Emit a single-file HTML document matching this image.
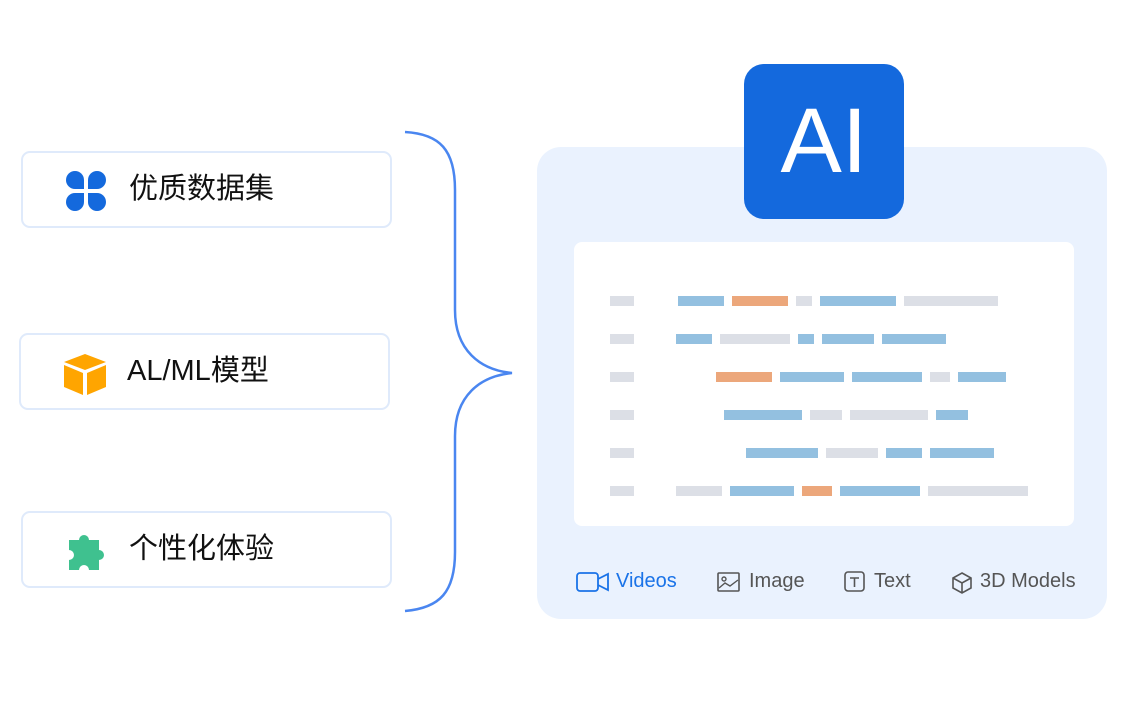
<!DOCTYPE html>
<html><head><meta charset="utf-8"><style>
body{margin:0;width:1136px;height:718px;background:#fff;position:relative;overflow:hidden;font-family:"Liberation Sans","Noto Sans CJK SC",sans-serif}
.card{position:absolute;width:371px;height:77px;border:2px solid #dfeafb;border-radius:9px;box-sizing:border-box;background:#fff}
.card span{position:absolute;left:106px;top:18px;font-size:29px;color:#111;line-height:36px}
.card svg{position:absolute;left:42px;top:17px}
.b{position:absolute;height:10px}
.g{background:#dcdfe6}.u{background:#93c0e0}.o{background:#eca77b}
.tab{position:absolute;top:569px;font-size:20px;color:#555;line-height:24px}
</style></head><body>
<div class="card" style="left:21px;top:151px"><svg width="42" height="42" viewBox="0 0 42 42"><g fill="#1469dd"><path d="M1 10a9 9 0 0 1 18 0v9H10a9 9 0 0 1-9-9z"/><path d="M23 10a9 9 0 0 1 18 0a9 9 0 0 1-9 9h-9z"/><path d="M1 32a9 9 0 0 1 9-9h9v9a9 9 0 0 1-18 0z"/><path d="M23 23h9a9 9 0 0 1 0 18a9 9 0 0 1-9-9z"/></g></svg><span>优质数据集</span></div>
<div class="card" style="left:19px;top:333px"><svg width="44" height="44" viewBox="0 0 44 44"><path d="M22 2L43 10L22 18L1 10Z" fill="#ffa500"/><path d="M1 13L20 21V43L1 35Z" fill="#ffa500"/><path d="M24 21L43 13V35L24 43Z" fill="#ffa500"/></svg><span style="left:106px">AL/ML模型</span></div>
<div class="card" style="left:21px;top:511px"><svg width="44" height="44" viewBox="0 0 44 44"><path d="M4 10h10a5 5 0 1 1 10 0h10v10a5 5 0 1 1 0 10v10H24a5 5 0 1 0-10 0H4V30a5 5 0 1 0 0-10z" fill="#3fc18f"/></svg><span>个性化体验</span></div>
<svg style="position:absolute;left:0;top:0" width="1136" height="718"><path d="M405 132C440 134 455 150 455 190V310C455 350 480 370 512 373C480 376 455 396 455 436V552C455 592 440 608 405 611" fill="none" stroke="#4a86f0" stroke-width="2.5"/></svg>
<div style="position:absolute;left:537px;top:147px;width:570px;height:472px;background:#eaf2fe;border-radius:24px"></div>
<div style="position:absolute;left:744px;top:64px;width:160px;height:155px;background:#1469dd;border-radius:20px;color:#fff;font-size:92px;text-align:center;line-height:155px">AI</div>
<div style="position:absolute;left:574px;top:242px;width:500px;height:284px;background:#fff;border-radius:8px"></div>
<div class="b g" style="left:610px;top:296px;width:24px"></div><div class="b u" style="left:678px;top:296px;width:46px"></div><div class="b o" style="left:732px;top:296px;width:56px"></div><div class="b g" style="left:796px;top:296px;width:16px"></div><div class="b u" style="left:820px;top:296px;width:76px"></div><div class="b g" style="left:904px;top:296px;width:94px"></div>
<div class="b g" style="left:610px;top:334px;width:24px"></div><div class="b u" style="left:676px;top:334px;width:36px"></div><div class="b g" style="left:720px;top:334px;width:70px"></div><div class="b u" style="left:798px;top:334px;width:16px"></div><div class="b u" style="left:822px;top:334px;width:52px"></div><div class="b u" style="left:882px;top:334px;width:64px"></div>
<div class="b g" style="left:610px;top:372px;width:24px"></div><div class="b o" style="left:716px;top:372px;width:56px"></div><div class="b u" style="left:780px;top:372px;width:64px"></div><div class="b u" style="left:852px;top:372px;width:70px"></div><div class="b g" style="left:930px;top:372px;width:20px"></div><div class="b u" style="left:958px;top:372px;width:48px"></div>
<div class="b g" style="left:610px;top:410px;width:24px"></div><div class="b u" style="left:724px;top:410px;width:78px"></div><div class="b g" style="left:810px;top:410px;width:32px"></div><div class="b g" style="left:850px;top:410px;width:78px"></div><div class="b u" style="left:936px;top:410px;width:32px"></div>
<div class="b g" style="left:610px;top:448px;width:24px"></div><div class="b u" style="left:746px;top:448px;width:72px"></div><div class="b g" style="left:826px;top:448px;width:52px"></div><div class="b u" style="left:886px;top:448px;width:36px"></div><div class="b u" style="left:930px;top:448px;width:64px"></div>
<div class="b g" style="left:610px;top:486px;width:24px"></div><div class="b g" style="left:676px;top:486px;width:46px"></div><div class="b u" style="left:730px;top:486px;width:64px"></div><div class="b o" style="left:802px;top:486px;width:30px"></div><div class="b u" style="left:840px;top:486px;width:80px"></div><div class="b g" style="left:928px;top:486px;width:100px"></div>
<svg style="position:absolute;left:576px;top:571px" width="34" height="22" viewBox="0 0 34 22"><rect x="1" y="2" width="21" height="18" rx="3" fill="none" stroke="#1a73e8" stroke-width="1.8"/><path d="M22 8L32 3V19L22 14" fill="none" stroke="#1a73e8" stroke-width="1.8"/></svg>
<div class="tab" style="left:616px;color:#1a73e8">Videos</div>
<svg style="position:absolute;left:717px;top:571px" width="24" height="22" viewBox="0 0 24 22"><rect x="1" y="2" width="21" height="18" rx="1" fill="none" stroke="#555" stroke-width="1.6"/><circle cx="7" cy="8" r="2" fill="none" stroke="#555" stroke-width="1.4"/><path d="M2 17L8 12L13 15L21 9" fill="none" stroke="#555" stroke-width="1.4"/></svg>
<div class="tab" style="left:749px">Image</div>
<svg style="position:absolute;left:844px;top:571px" width="22" height="22" viewBox="0 0 22 22"><rect x="1" y="1" width="19" height="19" rx="3" fill="none" stroke="#555" stroke-width="1.6"/><path d="M6 7H15M10.5 7V16" stroke="#555" stroke-width="1.6"/></svg>
<div class="tab" style="left:874px">Text</div>
<svg style="position:absolute;left:950px;top:571px" width="24" height="24" viewBox="0 0 24 24"><path d="M12 2L21 7V17L12 22L3 17V7Z M3 7L12 12L21 7 M12 12V22" fill="none" stroke="#555" stroke-width="1.6"/></svg>
<div class="tab" style="left:980px">3D Models</div>
</body></html>
